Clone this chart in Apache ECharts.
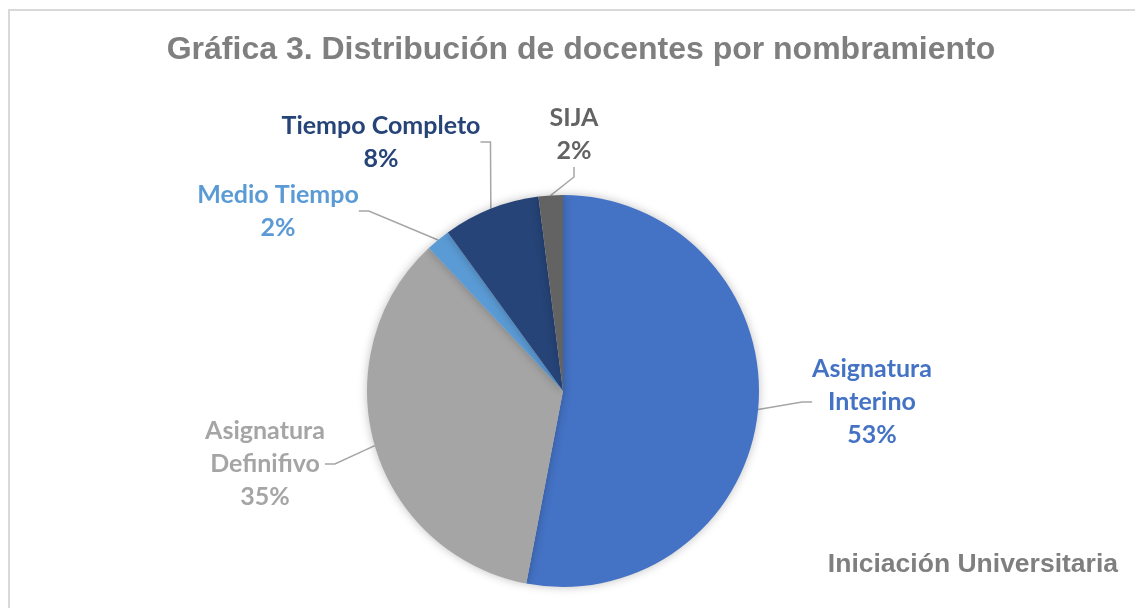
<!DOCTYPE html>
<html>
<head>
<meta charset="utf-8">
<script src="https://cdn.jsdelivr.net/npm/echarts@6/dist/echarts.min.js"></script>
<style>
  html, body { margin: 0; padding: 0; background: #fff; }
  #frame {
    position: absolute; left: 8px; top: 9px; right: -4px; bottom: -4px;
    border-top: 2px solid #d9d9d9; border-left: 2px solid #d9d9d9;
  }
  #chart { position: absolute; left: 0; top: 0; width: 1135px; height: 608px; }
</style>
</head>
<body>
<div id="frame"></div>
<div id="chart"></div>
<script>
const categories = ['Asignatura Interino', 'Asignatura Definifivo', 'Medio Tiempo', 'Tiempo Completo', 'SIJA'];
const values = [53, 35, 2, 8, 2];
const colors = ['#4472C4', '#A5A5A5', '#5B9BD5', '#264478', '#636363'];
// label centres (px), same order as categories
const labelPos = [[872, 402], [265, 464], [278, 211], [381, 142], [574, 134]];

const getOptionChart = () => {
  return {
    title: [
      {
        text: 'Gráfica 3. Distribución de docentes por nombramiento',
        left: 576,
        textAlign: 'center',
        top: 29,
        textStyle: { fontFamily: 'Liberation Sans', fontWeight: 'bold', fontSize: 32, color: '#7f7f7f' }
      },
      {
        text: 'Iniciación Universitaria',
        right: 12,
        top: 546,
        textStyle: { fontFamily: 'Liberation Sans', fontWeight: 'bold', fontSize: 26.5, color: '#7f7f7f' }
      }
    ],
    series: [
      {
        type: 'pie',
        center: [563, 391],
        radius: 196,
        startAngle: 90,
        clockwise: true,
        animation: false,
        data: categories.map((name, i) => ({
          name: name,
          value: values[i],
          itemStyle: { color: colors[i] },
          label: { color: colors[i] }
        })),
        itemStyle: {
          borderWidth: 0,
          shadowBlur: 10,
          shadowColor: 'rgba(0,0,0,0.25)'
        },
        label: {
          show: true,
          formatter: (p) => p.name.replace('Asignatura ', 'Asignatura\n') + '\n' + Math.round(p.percent) + '%',
          fontFamily: 'Lato',
          fontWeight: 'bold',
          fontSize: 25,
          lineHeight: 33,
          align: 'center'
        },
        labelLine: {
          show: true,
          length: 15,
          length2: 10,
          lineStyle: { color: '#a6a6a6', width: 1.5 }
        },
        labelLayout: (params) => {
          const pos = labelPos[params.dataIndex];
          return { x: pos[0], y: pos[1], align: 'center', verticalAlign: 'middle' };
        }
      }
    ]
  };
};

const initCharts = () => {
  const chart = echarts.init(document.getElementById('chart'), null, { renderer: 'canvas' });
  chart.setOption(getOptionChart());
};

window.addEventListener('load', () => {
  initCharts();
});
</script>
</body>
</html>
